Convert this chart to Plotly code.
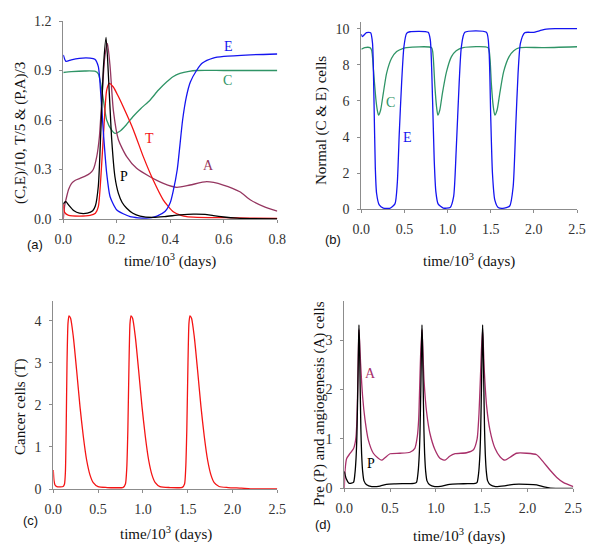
import plotly.graph_objects as go

# ---------------- data (time in 10^3 days) ----------------
# Panel (a): scaled values (C,E)/10, T/5, (P,A)/3
E_a_t = [0, 0.01, 0.03, 0.06, 0.1, 0.118, 0.131, 0.14, 0.15, 0.162, 0.175, 0.2, 0.25, 0.31, 0.35, 0.38, 0.4, 0.411, 0.426, 0.446, 0.46, 0.475, 0.498, 0.52, 0.56, 0.6, 0.7, 0.8]
E_a_v = [0.994, 0.955, 0.965, 0.974, 0.975, 0.968, 0.923, 0.76, 0.52, 0.28, 0.135, 0.055, 0.014, 0.005, 0.018, 0.045, 0.1, 0.17, 0.3, 0.6, 0.74, 0.83, 0.9, 0.945, 0.975, 0.985, 0.995, 1.0]
C_a_t = [0, 0.03, 0.08, 0.12, 0.131, 0.14, 0.15, 0.162, 0.18, 0.193, 0.21, 0.235, 0.26, 0.29, 0.324, 0.355, 0.386, 0.41, 0.436, 0.47, 0.5, 0.6, 0.8]
C_a_v = [0.888, 0.893, 0.897, 0.895, 0.88, 0.82, 0.72, 0.6, 0.54, 0.519, 0.53, 0.57, 0.62, 0.67, 0.72, 0.78, 0.83, 0.862, 0.882, 0.895, 0.9, 0.9, 0.9]
T_a_t = [0, 0.005, 0.02, 0.06, 0.1, 0.12, 0.131, 0.143, 0.152, 0.162, 0.172, 0.187, 0.205, 0.224, 0.262, 0.299, 0.336, 0.374, 0.411, 0.44, 0.461, 0.5, 0.6, 0.7, 0.8]
T_a_v = [0.09, 0.04, 0.022, 0.018, 0.022, 0.035, 0.075, 0.32, 0.56, 0.78, 0.822, 0.8, 0.745, 0.68, 0.54, 0.378, 0.236, 0.115, 0.044, 0.022, 0.014, 0.01, 0.008, 0.005, 0.003]
P_a_t = [0, 0.004, 0.01, 0.02, 0.04, 0.06, 0.09, 0.11, 0.12, 0.131, 0.14, 0.15, 0.16, 0.172, 0.181, 0.193, 0.206, 0.22, 0.237, 0.26, 0.287, 0.336, 0.38, 0.436, 0.486, 0.53, 0.561, 0.6, 0.65, 0.7, 0.8]
P_a_v = [0.09, 0.1, 0.105, 0.085, 0.05, 0.035, 0.035, 0.05, 0.08, 0.2, 0.52, 0.92, 1.1, 0.76, 0.48, 0.256, 0.155, 0.1, 0.065, 0.035, 0.018, 0.01, 0.015, 0.025, 0.03, 0.028, 0.02, 0.012, 0.005, 0.002, 0.0]
A_a_t = [0, 0.005, 0.0125, 0.02, 0.031, 0.045, 0.062, 0.08, 0.1, 0.112, 0.125, 0.135, 0.145, 0.155, 0.165, 0.175, 0.187, 0.206, 0.237, 0.274, 0.324, 0.374, 0.424, 0.474, 0.536, 0.598, 0.66, 0.7, 0.75, 0.8]
A_a_v = [0.0, 0.08, 0.135, 0.18, 0.216, 0.235, 0.246, 0.258, 0.277, 0.3, 0.378, 0.5, 0.75, 0.98, 1.065, 0.923, 0.66, 0.48, 0.378, 0.307, 0.256, 0.216, 0.192, 0.206, 0.226, 0.206, 0.165, 0.115, 0.075, 0.048]

# Panel (b): normal cells C and E
E_b_t = [0, 0.012, 0.06, 0.108, 0.13, 0.147, 0.162, 0.177, 0.208, 0.255, 0.33, 0.39, 0.417, 0.44, 0.467, 0.494, 0.525, 0.563, 0.775, 0.8, 0.826, 0.845, 0.864, 0.89, 0.95, 1.03, 1.07, 1.1, 1.134, 1.16, 1.2, 1.45, 1.48, 1.5, 1.52, 1.547, 1.586, 1.64, 1.72, 1.76, 1.79, 1.817, 1.844, 1.894, 1.99, 2.07, 2.145, 2.25, 2.5]
E_b_v = [9.69, 9.56, 9.78, 9.78, 9.19, 6.05, 2.36, 0.89, 0.24, 0.07, 0.055, 0.3, 1.44, 4.2, 6.97, 9.0, 9.74, 9.83, 9.8, 9.37, 6.05, 2.73, 0.98, 0.3, 0.07, 0.1, 0.7, 3.28, 6.97, 9.0, 9.8, 9.8, 8.8, 5.13, 2.0, 0.52, 0.1, 0.05, 0.18, 1.25, 4.58, 7.53, 9.19, 9.78, 9.8, 9.89, 9.98, 10.0, 10.0]
C_b_t = [0, 0.04, 0.1, 0.12, 0.147, 0.17, 0.185, 0.2, 0.224, 0.255, 0.293, 0.351, 0.41, 0.486, 0.525, 0.814, 0.833, 0.853, 0.872, 0.887, 0.91, 0.94, 0.988, 1.045, 1.1, 1.18, 1.47, 1.49, 1.508, 1.528, 1.547, 1.574, 1.605, 1.65, 1.713, 1.767, 1.836, 2.1, 2.5]
C_b_v = [8.86, 8.95, 8.95, 8.8, 7.34, 6.05, 5.5, 5.22, 5.5, 6.42, 7.53, 8.36, 8.73, 8.91, 8.95, 8.95, 8.45, 6.79, 5.68, 5.22, 5.5, 6.42, 7.62, 8.45, 8.78, 8.95, 8.95, 8.45, 6.9, 5.75, 5.22, 5.5, 6.42, 7.62, 8.45, 8.78, 8.95, 8.95, 9.0]

# Panel (c): cancer cells T
T_c_t = [0, 0.008, 0.019, 0.04, 0.08, 0.11, 0.125, 0.135, 0.143, 0.153, 0.164, 0.175, 0.193, 0.223, 0.26, 0.298, 0.335, 0.372, 0.41, 0.446, 0.5, 0.6, 0.7, 0.78, 0.805, 0.82, 0.832, 0.845, 0.856, 0.867, 0.885, 0.915, 0.952, 0.99, 1.027, 1.064, 1.102, 1.138, 1.19, 1.3, 1.44, 1.465, 1.478, 1.49, 1.503, 1.514, 1.525, 1.543, 1.573, 1.61, 1.648, 1.685, 1.722, 1.76, 1.796, 1.85, 1.95, 2.1, 2.2, 2.5]
T_c_v = [0.45, 0.2, 0.095, 0.055, 0.05, 0.06, 0.12, 0.4, 1.3, 2.99, 3.94, 4.12, 4.06, 3.63, 2.83, 1.96, 1.25, 0.69, 0.33, 0.15, 0.055, 0.035, 0.03, 0.04, 0.12, 0.5, 1.4, 2.99, 3.94, 4.12, 4.06, 3.63, 2.83, 1.96, 1.25, 0.69, 0.33, 0.15, 0.055, 0.035, 0.04, 0.12, 0.5, 1.4, 2.99, 3.94, 4.12, 4.06, 3.63, 2.83, 1.96, 1.25, 0.69, 0.33, 0.15, 0.06, 0.035, 0.02, 0.005, 0.0]

# Panel (d): pre-cancer P and angiogenesis A
P_d_t = [0, 0.02, 0.055, 0.1, 0.116, 0.128, 0.138, 0.149, 0.156, 0.16, 0.165, 0.172, 0.181, 0.189, 0.2, 0.215, 0.244, 0.3, 0.39, 0.46, 0.55, 0.68, 0.76, 0.788, 0.804, 0.816, 0.826, 0.837, 0.844, 0.848, 0.853, 0.86, 0.869, 0.877, 0.888, 0.903, 0.932, 0.988, 1.05, 1.15, 1.25, 1.35, 1.43, 1.45, 1.466, 1.478, 1.488, 1.499, 1.506, 1.51, 1.515, 1.522, 1.531, 1.539, 1.55, 1.565, 1.594, 1.65, 1.75, 1.85, 2.0, 2.1, 2.18, 2.25, 2.5]
P_d_v = [0.34, 0.2, 0.1, 0.12, 0.3, 0.6, 1.1, 2.2, 3.0, 3.31, 3.0, 2.2, 1.2, 0.7, 0.35, 0.15, 0.07, 0.035, 0.045, 0.08, 0.09, 0.095, 0.1, 0.12, 0.3, 0.6, 1.1, 2.2, 3.0, 3.31, 3.0, 2.2, 1.2, 0.7, 0.35, 0.15, 0.07, 0.035, 0.04, 0.08, 0.09, 0.095, 0.1, 0.12, 0.3, 0.6, 1.1, 2.2, 3.0, 3.31, 3.0, 2.2, 1.2, 0.7, 0.35, 0.15, 0.07, 0.035, 0.05, 0.08, 0.08, 0.07, 0.03, 0.005, 0.0]
A_d_t = [0, 0.01, 0.025, 0.06, 0.1, 0.116, 0.128, 0.138, 0.146, 0.153, 0.16, 0.168, 0.178, 0.2, 0.226, 0.262, 0.317, 0.371, 0.408, 0.444, 0.5, 0.608, 0.717, 0.77, 0.797, 0.812, 0.822, 0.833, 0.848, 0.858, 0.87, 0.9, 0.935, 0.99, 1.044, 1.1, 1.15, 1.21, 1.335, 1.41, 1.45, 1.47, 1.485, 1.497, 1.51, 1.528, 1.554, 1.59, 1.645, 1.7, 1.754, 1.81, 1.88, 1.99, 2.1, 2.17, 2.245, 2.32, 2.39, 2.5]
A_d_v = [0.0, 0.4, 0.6, 0.7, 0.8, 0.9, 1.05, 1.4, 2.0, 2.7, 3.21, 2.95, 2.53, 1.86, 1.39, 0.98, 0.71, 0.61, 0.57, 0.62, 0.7, 0.71, 0.73, 0.81, 1.05, 1.4, 2.0, 2.7, 3.21, 2.8, 2.2, 1.52, 1.11, 0.78, 0.61, 0.57, 0.65, 0.7, 0.72, 0.78, 1.0, 1.5, 2.2, 2.8, 3.21, 2.4, 1.66, 1.18, 0.81, 0.64, 0.57, 0.63, 0.71, 0.71, 0.68, 0.54, 0.37, 0.22, 0.12, 0.034]

for a, b in [(E_a_t, E_a_v), (C_a_t, C_a_v), (T_a_t, T_a_v), (P_a_t, P_a_v), (A_a_t, A_a_v),
             (E_b_t, E_b_v), (C_b_t, C_b_v), (T_c_t, T_c_v), (P_d_t, P_d_v), (A_d_t, A_d_v)]:
    assert len(a) == len(b), (len(a), len(b))

# ---------------- styling ----------------
W, H = 600, 556
SERIF = "Liberation Serif"
SANS = "Liberation Sans"
BLUE = "#1414f0"
GREEN = "#2f9466"
RED = "#f41414"
BLACK = "#000000"
PURPLE_A = "#953660"
PURPLE_D = "#a8306a"
AXC = "#8c8c8c"
TICKC = "#333333"
LW = 1.3

def px(x):
    return x / W

def py(y):
    return 1 - y / H

fig = go.Figure()

panels = {
    "1": ((63.3, 277.3), (21, 219), [0, 0.8], [0, 1.2], [0, 0.3, 0.6, 0.9, 1.2], ".1f", [0, 0.2, 0.4, 0.6, 0.8]),
    "2": ((361.3, 577), (22, 209.3), [0, 2.5], [0, 10.37], [0, 2, 4, 6, 8, 10], "d", [0, 0.5, 1.0, 1.5, 2.0, 2.5]),
    "3": ((53.3, 277.3), (300.7, 489), [0, 2.5], [0, 4.48], [0, 1, 2, 3, 4], "d", [0, 0.5, 1.0, 1.5, 2.0, 2.5]),
    "4": ((344.3, 573.3), (300.7, 488.3), [0, 2.5], [0, 3.8], [0, 1, 2, 3], "d", [0, 0.5, 1.0, 1.5, 2.0, 2.5]),
}

layout_axes = {}
for k, (xd, yd, xr, yr, ytv, yfmt, xtv) in panels.items():
    sx = "" if k == "1" else k
    common = dict(showline=True, linecolor=AXC, linewidth=1, ticks="outside", ticklen=3,
                  tickcolor=AXC, tickwidth=1, showgrid=False, zeroline=False, automargin=False,
                  tickfont=dict(family=SERIF, size=14, color=TICKC), fixedrange=True)
    layout_axes["xaxis" + sx] = dict(domain=[px(xd[0]), px(xd[1])], range=xr, anchor="y" + sx,
                                     tickvals=xtv, tickformat=".1f", ticklabelstandoff=4, **common)
    layout_axes["yaxis" + sx] = dict(domain=[py(yd[1]), py(yd[0])], range=yr, anchor="x" + sx,
                                     tickvals=ytv, tickformat=yfmt, ticklabelstandoff=5, **common)

def add(t, v, color, axis):
    sx = "" if axis == "1" else axis
    fig.add_trace(go.Scatter(x=t, y=v, mode="lines", line=dict(color=color, width=LW, shape="spline", smoothing=0.6),
                             xaxis="x" + sx, yaxis="y" + sx, showlegend=False, hoverinfo="skip"))

add(C_a_t, C_a_v, GREEN, "1")
add(A_a_t, A_a_v, PURPLE_A, "1")
add(T_a_t, T_a_v, RED, "1")
add(E_a_t, E_a_v, BLUE, "1")
add(P_a_t, P_a_v, BLACK, "1")
add(C_b_t, C_b_v, GREEN, "2")
add(E_b_t, E_b_v, BLUE, "2")
add(T_c_t, T_c_v, RED, "3")
add(A_d_t, A_d_v, PURPLE_D, "4")
add(P_d_t, P_d_v, BLACK, "4")

ann = []
def text(x, y, s, size, color="#111111", family=SERIF, angle=0):
    ann.append(dict(x=px(x), y=py(y), xref="paper", yref="paper", text=s, showarrow=False,
                    font=dict(family=family, size=size, color=color), textangle=angle,
                    xanchor="center", yanchor="middle"))

XT = "time/10<sup>3</sup> (days)"
text(170, 260, XT, 15)
text(469, 260, XT, 15)
text(166, 533, XT, 15)
text(459, 535, XT, 15)
text(20, 133, "(C,E)/10, T/5 &amp; (P,A)/3", 15, angle=-90)
text(322, 121, "Normal (C &amp; E) cells", 15, angle=-90)
text(20, 407, "Cancer cells (T)", 15, angle=-90)
text(319, 404, "Pre (P) and angiogenesis (A) cells", 15, angle=-90)
text(35, 245, "(a)", 13, family=SANS)
text(333, 239, "(b)", 13, family=SANS)
text(30, 520, "(c)", 13, family=SANS)
text(323, 524, "(d)", 13, family=SANS)
text(228, 46, "E", 14, BLUE)
text(227, 81, "C", 14, GREEN)
text(149, 138, "T", 14, RED)
text(208, 166, "A", 14, PURPLE_A)
text(124, 176, "P", 14, BLACK)
text(390, 103, "C", 14, GREEN)
text(407, 137, "E", 14, BLUE)
text(370, 373, "A", 14, PURPLE_D)
text(371, 463, "P", 14, BLACK)

fig.update_layout(template="none", width=W, height=H, autosize=False, margin=dict(l=0, r=0, t=0, b=0, pad=0),
                  paper_bgcolor="white", plot_bgcolor="white", showlegend=False,
                  annotations=ann, **layout_axes)

fig.write_html("out.html", config={"displayModeBar": False, "staticPlot": True},
               post_script="document.body.style.margin='0px';document.body.style.overflow='hidden';")
